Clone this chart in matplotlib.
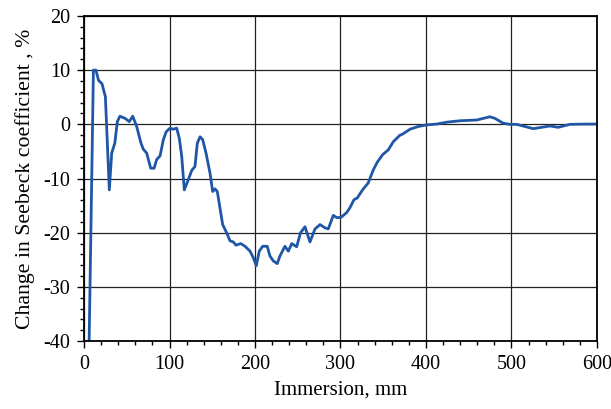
import matplotlib
matplotlib.use("Agg")
from matplotlib import pyplot as plt
from matplotlib.ticker import MultipleLocator

plt.rcParams['font.family'] = ['Liberation Serif', 'DejaVu Serif']
plt.rcParams['axes.unicode_minus'] = False

# Immersion (mm) and change in Seebeck coefficient (%)
immersion = [6, 9, 11, 14, 17, 21, 25, 29.6, 32.4, 36, 39, 42, 48, 53, 57, 61.6,
             66.7, 69.4, 73.3, 78, 82, 85, 89, 92.7, 96, 100.6, 104.4, 108.4,
             111.5, 114.3, 117.3, 122, 126, 129.8, 132.5, 135.7, 138.8, 142.7,
             147.4, 150.5, 153.2, 155.9, 159, 162.2, 166.8, 170.8, 174.6, 177.8,
             183.3, 188.3, 194.2, 198, 201.5, 205, 209, 214.3, 217.5, 221.4, 226,
             229.2, 235, 239, 243, 248.7, 253.3, 258.5, 264.3, 270.2, 276, 281.9,
             285.7, 291.6, 295.5, 300.2, 307.2, 311, 315.8, 319.6, 325.8, 332.5,
             338.4, 343, 349.3, 356, 361.8, 369.6, 372.7, 381.3, 391, 400.8,
             412.5, 424.2, 439.8, 459.3, 467.1, 474.8, 480.7, 490.4, 498.2, 506,
             515.8, 525.5, 535.3, 545, 554.7, 568.4, 588, 598]
change = [-40, -10.2, 10, 10, 8.1, 7.5, 5.1, -12.1, -5.3, -3.5, 0.5, 1.5, 1.1,
          0.5, 1.5, -0.4, -3.5, -4.6, -5.3, -8.1, -8.1, -6.5, -5.8, -2.9, -1.4,
          -0.7, -0.9, -0.7, -2.6, -5.9, -12.1, -10.2, -8.5, -7.8, -3.5, -2.3,
          -2.8, -5.3, -9.0, -12.4, -11.9, -12.4, -15.4, -18.5, -20.0, -21.5,
          -21.7, -22.3, -22.0, -22.5, -23.4, -24.6, -26.1, -23.4, -22.5, -22.5,
          -24.3, -25.2, -25.7, -24.3, -22.5, -23.4, -22.0, -22.6, -20.0, -18.9,
          -21.7, -19.3, -18.5, -19.1, -19.3, -16.8, -17.2, -17.2, -16.3, -15.4,
          -13.9, -13.6, -12.1, -10.8, -8.4, -7.0, -5.6, -4.7, -3.2, -2.0, -1.8,
          -0.9, -0.4, -0.1, 0.05, 0.4, 0.66, 0.8, 1.1, 1.4, 1.1, 0.2, 0.0, 0.0,
          -0.4, -0.8, -0.55, -0.3, -0.55, 0.0, 0.05, 0.05]

fig = plt.figure(figsize=(6.11, 4.09), dpi=100)
ax = fig.add_axes([0.1375, 0.166, 0.8395, 0.795])

ax.plot(immersion, change, color='#1f56a5', lw=2.0)

ax.set_xlim(0, 600)
ax.set_ylim(-40, 20)
ax.xaxis.set_major_locator(MultipleLocator(100))
ax.xaxis.set_minor_locator(MultipleLocator(20))
ax.yaxis.set_major_locator(MultipleLocator(10))
ax.yaxis.set_minor_locator(MultipleLocator(2))
ax.tick_params(which='both', direction='out', labelsize=14.5, width=1)
ax.tick_params(which='major', length=5, pad=5)
ax.tick_params(which='minor', length=3)
ax.grid(True, which='major', color='#222222', lw=0.9)
for s in ax.spines.values():
    s.set_linewidth(1.3)

ax.set_xlabel("Immersion, mm", fontsize=15, labelpad=5)
ax.set_ylabel("Change in Seebeck coefficient , %", fontsize=15.7, labelpad=6)

fig.savefig("out.png", dpi=100)
